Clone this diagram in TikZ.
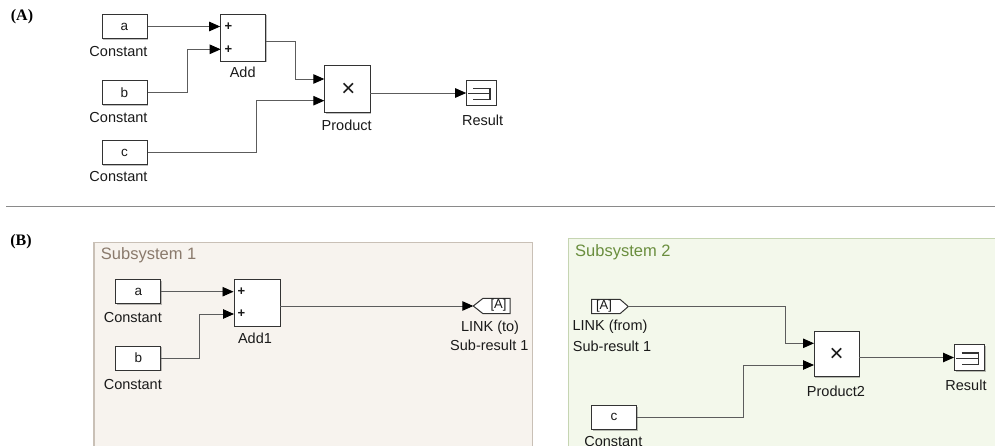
\documentclass[tikz,border=0pt]{standalone}
\usepackage{fontspec}
\setmainfont{Liberation Sans}
\newfontfamily\panelfont{Liberation Serif}
\usetikzlibrary{arrows.meta,calc,shadows}
\newcommand\myfs[1]{\fontsize{#1}{#1}\selectfont}
\definecolor{wirec}{HTML}{5C5C5C}
\definecolor{blkc}{HTML}{333333}
\definecolor{txtc}{HTML}{1A1A1A}
\definecolor{sepc}{HTML}{8A8A8A}
\definecolor{sonefill}{HTML}{F7F3EE}
\definecolor{sonedraw}{HTML}{C9C0B6}
\definecolor{sonetext}{HTML}{8A7A6C}
\definecolor{stwofill}{HTML}{F3F8EB}
\definecolor{stwodraw}{HTML}{C6D5B2}
\definecolor{stwotext}{HTML}{6A8E3E}
\begin{document}
\begin{tikzpicture}[x=1pt,y=-1pt,
  blk/.style={draw=blkc, fill=white, line width=1pt, inner sep=0pt, font=\myfs{13.5}, text=txtc,
    drop shadow={shadow xshift=1.3pt, shadow yshift=-1.3pt, fill=black, opacity=0.25}},
  cbox/.style={blk, minimum width=45pt, minimum height=24pt},
  lbl/.style={font=\myfs{14.5}, inner sep=0pt, text=txtc},
  sgn/.style={font=\bfseries\myfs{13}, inner sep=0pt, text=txtc},
  xs/.style={font=\myfs{24}, inner sep=0pt, text=txtc},
  tagtxt/.style={font=\myfs{13}, inner sep=0pt, text=txtc},
  tagline/.style={draw=blkc, fill=white, line width=1pt, line join=miter},
  icon/.style={draw=blkc, line width=1.1pt},
  wire/.style={draw=wirec, line width=0.9pt},
  arr/.style={wire, -{Triangle[length=11pt,width=9.5pt,color=black]}},
  panel/.style={font=\panelfont\bfseries\myfs{16}, inner sep=0pt, text=black}
]
\useasboundingbox (0,0) rectangle (995,445);
\clip (0,0) rectangle (995,445);
\fill[white] (0,0) rectangle (995,445);

% ---------------- Panel A ----------------
\node[panel] (pA) at (22,17) {(A)};

\node[cbox] (ca) at (124.5,26.5) {a};
\node[cbox] (cb) at (124.5,92.7) {b};
\node[cbox] (cc) at (124.5,152.7) {c};
\node[lbl] (lca) at (118.5,51.7) {Constant};
\node[lbl] (lcb) at (118.5,117.3) {Constant};
\node[lbl] (lcc) at (118.5,176.7) {Constant};

\node[blk, minimum width=45pt, minimum height=47pt] (add) at (243.2,37.5) {};
\node[sgn] (addpa) at (228.5,26.7) {+};
\node[sgn] (addpb) at (228.5,49.3) {+};
\node[lbl] (ladd) at (242.7,72.7) {Add};
\coordinate (addib) at (220.7,49.3);
\coordinate (addo) at (265.7,41.7);

\node[blk, minimum width=45.7pt, minimum height=46.6pt] (prod) at (347.2,89) {};
\node[xs] (prodx) at (348.3,90.2) {×};
\node[lbl] (lprod) at (346.7,125) {Product};
\coordinate (prodia) at (324.3,79);
\coordinate (prodib) at (324.3,100.7);
\coordinate (prodo) at (370,93);

\node[blk, minimum width=29.3pt, minimum height=25pt] (res) at (481.35,92.5) {};
\coordinate (resi) at (res.west |- prodo);
\draw[icon] ($(res.center)+(-8,-4.2)$) -- ++(16.6,0) -- ++(0,11) -- ++(-16.6,0);
\draw[icon] ($(res.center)+(-13,0.8)$) -- ++(21.6,0);
\node[lbl] (lres) at (482.7,120) {Result};

\draw[arr] (ca.east) -- (ca.east -| add.west);
\draw[arr] (cb.east) -- ++(39.7,0) |- (addib);
\draw[arr] (addo) -- ++(29.3,0) |- (prodia);
\draw[arr] (cc.east) -- ++(108.7,0) |- (prodib);
\draw[arr] (prodo) -- (resi);

% separator
\draw[draw=sepc, line width=1pt] (6,206.7) -- (995,206.7);

% ---------------- Panel B ----------------
\node[panel] (pB) at (21,241.7) {(B)};

% Subsystem 1
\path[fill=sonefill, draw=sonedraw, line width=1.2pt] (94,242.3) rectangle (532.3,460);
\node[font=\myfs{16.5}, text=sonetext, inner sep=0pt, anchor=west] (sone) at (100.7,255) {Subsystem 1};

\node[cbox] (sa) at (138.4,291.7) {a};
\node[cbox] (sb) at (138.4,358) {b};
\node[lbl] (lsa) at (132.8,317.3) {Constant};
\node[lbl] (lsb) at (132.8,384) {Constant};

\node[blk, minimum width=46pt, minimum height=46.7pt] (addone) at (257,302.7) {};
\node[sgn] (addonepa) at (241.5,291.7) {+};
\node[sgn] (addonepb) at (241.5,314) {+};
\node[lbl] (laddone) at (255,338.3) {Add1};
\coordinate (addoneib) at (234,314);
\coordinate (addoneo) at (280,306);

\coordinate (gototip) at (473.3,306);
\draw[tagline] (gototip) -- (483,298.3) -- (510,298.3) -- (510,313.7) -- (483,313.7) -- cycle;
\node[tagtxt] (goto) at (498.5,305.5) {[A]};
\node[lbl] (lgotoa) at (490,327.7) {LINK (to)};
\node[lbl] (lgotob) at (489.3,345) {Sub-result 1};

\draw[arr] (sa.east) -- (sa.east -| addone.west);
\draw[arr] (sb.east) -- ++(38.4,0) |- (addoneib);
\draw[arr] (addoneo) -- (gototip);

% Subsystem 2
\path[fill=stwofill, draw=stwodraw, line width=1.2pt] (568.3,238.8) rectangle (1010,460);
\node[font=\myfs{16.5}, text=stwotext, inner sep=0pt, anchor=west] (stwo) at (575,252.3) {Subsystem 2};

\coordinate (fromtip) at (628.3,306.5);
\draw[tagline] (591.7,299.3) -- (620,299.3) -- (fromtip) -- (620,313.7) -- (591.7,313.7) -- cycle;
\node[tagtxt] (from) at (604,306) {[A]};
\node[lbl] (lfroma) at (610,326.7) {LINK (from)};
\node[lbl] (lfromb) at (612,346) {Sub-result 1};

\node[blk, minimum width=45pt, minimum height=45pt] (prodtwo) at (836.5,354.2) {};
\node[xs] (prodtwox) at (836.7,355) {×};
\node[lbl] (lprodtwo) at (836,391) {Product2};
\coordinate (prodtwoia) at (814,343.3);
\coordinate (prodtwoib) at (814,365);
\coordinate (prodtwoo) at (859,357.5);

\node[blk, minimum width=30pt, minimum height=26pt] (restwo) at (969.5,357.5) {};
\coordinate (restwoi) at (restwo.west |- prodtwoo);
\draw[icon] ($(restwo.center)+(-8,-4.5)$) -- ++(16.8,0) -- ++(0,11.2) -- ++(-16.8,0);
\draw[icon] ($(restwo.center)+(-13.3,0.8)$) -- ++(22.1,0);
\node[lbl] (lrestwo) at (966,385.7) {Result};

\node[cbox] (sc) at (613.9,417.3) {c};
\node[lbl] (lsc) at (613.3,441.5) {Constant};

\draw[arr] (fromtip) -- ++(156.7,0) |- (prodtwoia);
\draw[arr] (sc.east) -- ++(107,0) |- (prodtwoib);
\draw[arr] (prodtwoo) -- (restwoi);
\end{tikzpicture}
\end{document}
